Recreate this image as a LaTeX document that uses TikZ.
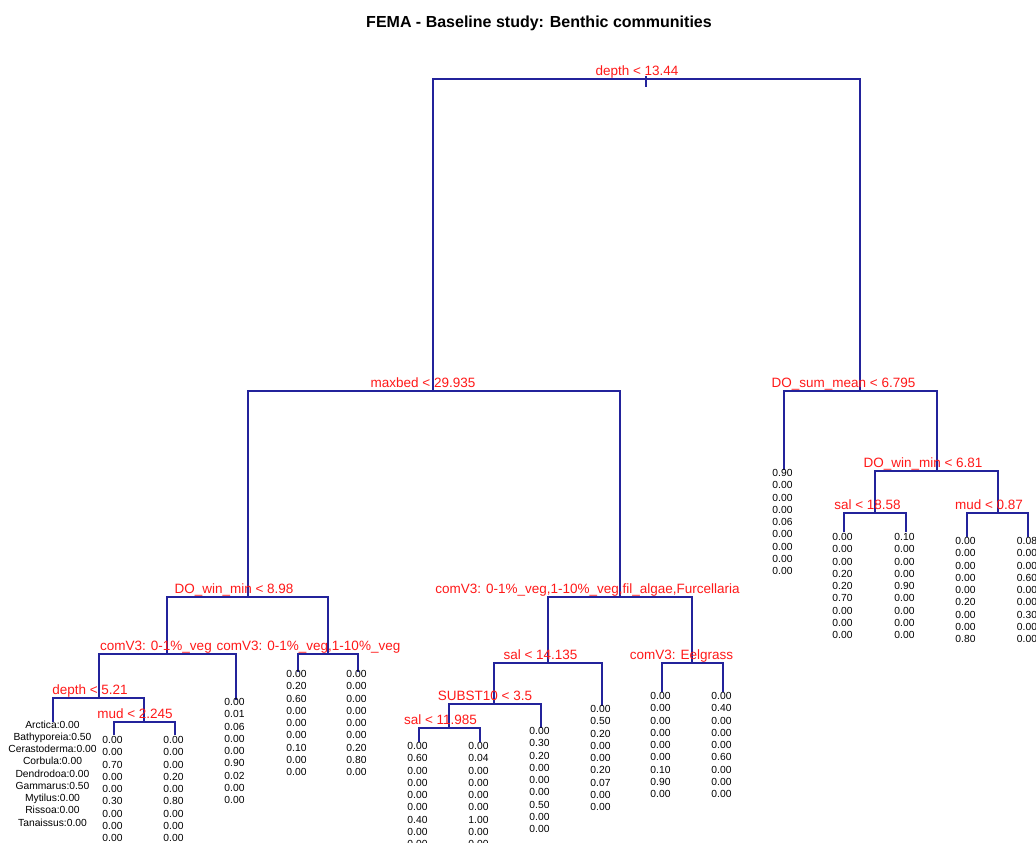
\documentclass[tikz,border=0pt]{standalone}
\usepackage{fontspec}
\setmainfont{Liberation Sans}
\definecolor{branchblue}{RGB}{35,35,155}
\definecolor{labelred}{RGB}{255,25,25}
\begin{document}
\begin{tikzpicture}[x=1pt,y=-1pt,
  branch/.style={draw=branchblue,line width=1.2pt},
  splitlabel/.style={text=labelred,inner sep=0pt,anchor=base,font=\fontsize{13.5pt}{16pt}\selectfont},
  leaftext/.style={text=black,inner sep=0pt,anchor=north,align=center,font=\fontsize{10.3pt}{12.25pt}\selectfont},
  titletext/.style={inner sep=0pt,anchor=base,font=\bfseries\fontsize{16pt}{19pt}\selectfont}]
\fill[white] (0,0) rectangle (1036,843);
\useasboundingbox (0,0) rectangle (1036,843);

\node[titletext] (title) at (539,28) {FEMA - Baseline study: Benthic communities};

% split points
\coordinate (n1) at (646,79);
\coordinate (n2) at (433,391);
\coordinate (n3) at (860,391);
\coordinate (n4) at (248,597);
\coordinate (n5) at (620,597);
\coordinate (n6) at (167,654);
\coordinate (n7) at (328,654);
\coordinate (n8) at (99,698);
\coordinate (n9) at (144,722);
\coordinate (n10) at (548,663);
\coordinate (n11) at (692,663);
\coordinate (n12) at (494,704);
\coordinate (n13) at (449,728);
\coordinate (n14) at (937,471);
\coordinate (n15) at (875,513);
\coordinate (n16) at (998,513);
% leaf ends
\coordinate (l1) at (53,722);
\coordinate (l2) at (114,735);
\coordinate (l3) at (175,735);
\coordinate (l4) at (236,700);
\coordinate (l5) at (298,672);
\coordinate (l6) at (358,672);
\coordinate (l7) at (419,742);
\coordinate (l8) at (480,742);
\coordinate (l9) at (541,728);
\coordinate (l10) at (602,706);
\coordinate (l11) at (662,692);
\coordinate (l12) at (723,692);
\coordinate (l13) at (784,470);
\coordinate (l14) at (844,532);
\coordinate (l15) at (906,532);
\coordinate (l16) at (967,537);
\coordinate (l17) at (1028,537);

% branches
\draw[branch] (n1) ++(0,-3) -- ++(0,11);
\draw[branch] (n2) |- (n1) -| (n3);
\draw[branch] (n4) |- (n2) -| (n5);
\draw[branch] (l13) |- (n3) -| (n14);
\draw[branch] (n6) |- (n4) -| (n7);
\draw[branch] (n10) |- (n5) -| (n11);
\draw[branch] (n8) |- (n6) -| (l4);
\draw[branch] (l5) |- (n7) -| (l6);
\draw[branch] (l1) |- (n8) -| (n9);
\draw[branch] (l2) |- (n9) -| (l3);
\draw[branch] (n12) |- (n10) -| (l10);
\draw[branch] (l11) |- (n11) -| (l12);
\draw[branch] (n13) |- (n12) -| (l9);
\draw[branch] (l7) |- (n13) -| (l8);
\draw[branch] (n15) |- (n14) -| (n16);
\draw[branch] (l14) |- (n15) -| (l15);
\draw[branch] (l16) |- (n16) -| (l17);

% split labels
\node[splitlabel] (t1) at (637,75) {depth < 13.44};
\node[splitlabel] (t2) at (423,387) {maxbed < 29.935};
\node[splitlabel] (t3) at (843.5,387) {DO\_sum\_mean < 6.795};
\node[splitlabel] (t4) at (234,593) {DO\_win\_min < 8.98};
\node[splitlabel] (t5) at (587.5,593) {comV3: 0-1\%\_veg,1-10\%\_veg,fil\_algae,Furcellaria};
\node[splitlabel] (t6) at (156,650) {comV3: 0-1\%\_veg};
\node[splitlabel] (t7) at (308.5,650) {comV3: 0-1\%\_veg,1-10\%\_veg};
\node[splitlabel] (t8) at (90,694) {depth < 5.21};
\node[splitlabel] (t9) at (135,718) {mud < 2.245};
\node[splitlabel] (t10) at (540.5,659) {sal < 14.135};
\node[splitlabel] (t11) at (681.5,659) {comV3: Eelgrass};
\node[splitlabel] (t12) at (485,700) {SUBST10 < 3.5};
\node[splitlabel] (t13) at (440.5,724) {sal < 11.985};
\node[splitlabel] (t14) at (923,467) {DO\_win\_min < 6.81};
\node[splitlabel] (t15) at (867.5,509) {sal < 18.58};
\node[splitlabel] (t16) at (989,509) {mud < 0.87};

% leaf texts
\node[leaftext] (v1) at (52.5,720.5) {Arctica:0.00\\Bathyporeia:0.50\\Cerastoderma:0.00\\Corbula:0.00\\Dendrodoa:0.00\\Gammarus:0.50\\Mytilus:0.00\\Rissoa:0.00\\Tanaissus:0.00};
\node[leaftext] (v2) at (112.5,736.3) {0.00\\0.00\\0.70\\0.00\\0.00\\0.30\\0.00\\0.00\\0.00};
\node[leaftext] (v3) at (173.5,736.3) {0.00\\0.00\\0.00\\0.20\\0.00\\0.80\\0.00\\0.00\\0.00};
\node[leaftext] (v4) at (234.5,698.3) {0.00\\0.01\\0.06\\0.00\\0.00\\0.90\\0.02\\0.00\\0.00};
\node[leaftext] (v5) at (296.5,670.3) {0.00\\0.20\\0.60\\0.00\\0.00\\0.00\\0.10\\0.00\\0.00};
\node[leaftext] (v6) at (356.5,670.3) {0.00\\0.00\\0.00\\0.00\\0.00\\0.00\\0.20\\0.80\\0.00};
\node[leaftext] (v7) at (417.5,742.3) {0.00\\0.60\\0.00\\0.00\\0.00\\0.00\\0.40\\0.00\\0.00};
\node[leaftext] (v8) at (478.5,742.3) {0.00\\0.04\\0.00\\0.00\\0.00\\0.00\\1.00\\0.00\\0.00};
\node[leaftext] (v9) at (539.5,727.3) {0.00\\0.30\\0.20\\0.00\\0.00\\0.00\\0.50\\0.00\\0.00};
\node[leaftext] (v10) at (600.5,705.3) {0.00\\0.50\\0.20\\0.00\\0.00\\0.20\\0.07\\0.00\\0.00};
\node[leaftext] (v11) at (660.5,692.3) {0.00\\0.00\\0.00\\0.00\\0.00\\0.00\\0.10\\0.90\\0.00};
\node[leaftext] (v12) at (721.5,692.3) {0.00\\0.40\\0.00\\0.00\\0.00\\0.60\\0.00\\0.00\\0.00};
\node[leaftext] (v13) at (782.5,469.3) {0.90\\0.00\\0.00\\0.00\\0.06\\0.00\\0.00\\0.00\\0.00};
\node[leaftext] (v14) at (842.5,533.3) {0.00\\0.00\\0.00\\0.20\\0.20\\0.70\\0.00\\0.00\\0.00};
\node[leaftext] (v15) at (904.5,533.3) {0.10\\0.00\\0.00\\0.00\\0.90\\0.00\\0.00\\0.00\\0.00};
\node[leaftext] (v16) at (965.5,537.3) {0.00\\0.00\\0.00\\0.00\\0.00\\0.20\\0.00\\0.00\\0.80};
\node[leaftext] (v17) at (1027,537.3) {0.08\\0.00\\0.00\\0.60\\0.00\\0.00\\0.30\\0.00\\0.00};
\end{tikzpicture}
\end{document}
